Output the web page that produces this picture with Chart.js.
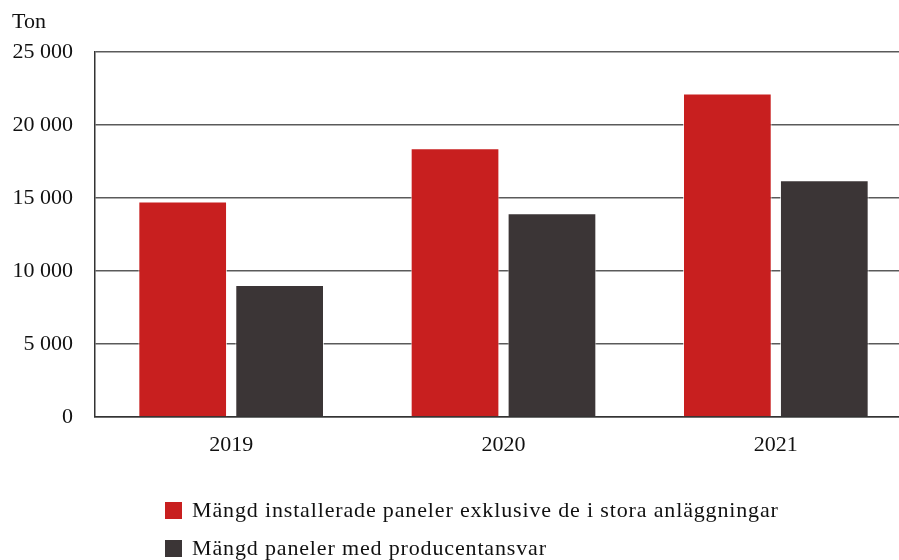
<!doctype html>
<html>
<head>
<meta charset="UTF-8">
<title>Solpaneler</title>
<script src="https://cdn.jsdelivr.net/npm/chart.js@4.4.1/dist/chart.umd.min.js"></script>
<style>
  body { margin: 0; background: #fff; }
  #wrap { position: relative; width: 899px; height: 560px; overflow: hidden; }
  #legend { position: absolute; left: 165px; top: 491px; font-family: "Liberation Serif", serif; font-size: 22px; letter-spacing: 0.85px; color: #111; }
  #legend div { display: flex; align-items: center; height: 38px; }
  #legend span.box { display: inline-block; width: 17px; height: 17px; margin-right: 10px; }
</style>
</head>
<body>
<div id="wrap">
  <!-- canvas is a bit wider than the frame: the last category runs past the right edge -->
  <canvas id="canvas" width="912" height="560"></canvas>
  <div id="legend"></div>
</div>
<script>
var years = ['2019', '2020', '2021'];
var installerade = [14760, 18410, 22160];
var producentansvar = [9040, 13960, 16210];
var seriesNames = ['Mängd installerade paneler exklusive de i stora anläggningar', 'Mängd paneler med producentansvar'];
var seriesColors = ['#c81f1f', '#3b3536'];
var unit = 'Ton';

var font = 'Liberation Serif';

// "Ton" above the y axis
var unitLabel = {
  id: 'unitLabel',
  afterDraw: function(chart) {
    var ctx = chart.ctx;
    ctx.save();
    ctx.font = '22px "' + font + '"';
    ctx.fillStyle = '#111';
    ctx.textAlign = 'left';
    ctx.textBaseline = 'middle';
    ctx.fillText(unit, 12, 22);
    ctx.restore();
  }
};

var ctx = document.getElementById('canvas').getContext('2d');
var chart = new Chart(ctx, {
  type: 'bar',
  data: {
    labels: years,
    datasets: [{
      label: seriesNames[0],
      data: installerade,
      backgroundColor: seriesColors[0],
      borderColor: 'rgba(255,255,255,0.7)',
      borderWidth: 1
    }, {
      label: seriesNames[1],
      data: producentansvar,
      backgroundColor: seriesColors[1],
      borderColor: 'rgba(255,255,255,0.7)',
      borderWidth: 1
    }]
  },
  options: {
    responsive: false,
    animation: false,
    layout: { padding: { top: 52, right: 0, left: 0, bottom: 0 } },
    datasets: { bar: { barPercentage: 0.915, categoryPercentage: 0.712 } },
    plugins: {
      legend: { display: false },
      tooltip: { enabled: false }
    },
    scales: {
      x: {
        grid: { display: false, drawTicks: false },
        border: { display: true, color: '#333', width: 1.5 },
        ticks: { color: '#111', font: { family: font, size: 22 }, padding: 15 },
        afterFit: function(scale) { scale.height = 143; }
      },
      y: {
        min: 0,
        max: 25000,
        ticks: {
          stepSize: 5000,
          color: '#111',
          padding: 22,
          font: { family: font, size: 22 },
          callback: function(v) { return v.toString().replace(/\B(?=(\d{3})+(?!\d))/g, ' '); }
        },
        grid: { color: '#5a5a5a', lineWidth: 1.5, drawTicks: false },
        border: { display: true, color: '#333', width: 1.5 },
        afterFit: function(scale) { scale.width = 95; }
      }
    }
  },
  plugins: [unitLabel]
});

var legend = document.getElementById('legend');
chart.data.datasets.forEach(function(ds) {
  var row = document.createElement('div');
  var box = document.createElement('span');
  box.className = 'box';
  box.style.background = ds.backgroundColor;
  row.appendChild(box);
  row.appendChild(document.createTextNode(ds.label));
  legend.appendChild(row);
});
</script>
</body>
</html>
